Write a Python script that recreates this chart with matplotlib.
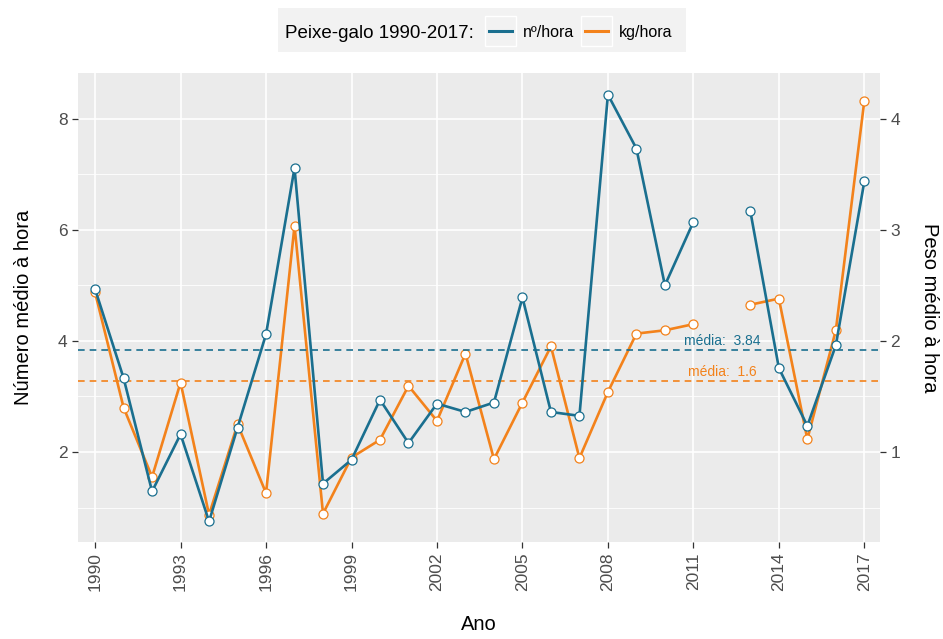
import numpy as np
import matplotlib.pyplot as plt
from matplotlib.patches import Rectangle
from matplotlib.lines import Line2D

plt.rcParams['font.family'] = ['Liberation Sans', 'DejaVu Sans']

# data
anos = np.arange(1990, 2018)
num_hora = [4.93, 3.33, 1.29, 2.32, 0.75, 2.44, 4.12, 7.11, 1.43, 1.86,
            2.94, 2.16, 2.87, 2.72, 2.89, 4.78, 2.72, 2.65, 8.43, 7.46,
            5.00, 6.14, np.nan, 6.33, 3.51, 2.47, 3.92, 6.87]
kg_hora = [2.435, 1.40, 0.775, 1.625, 0.435, 1.25, 0.63, 3.035, 0.445, 0.95,
           1.11, 1.595, 1.28, 1.885, 0.935, 1.445, 1.95, 0.945, 1.54, 2.065,
           2.095, 2.15, np.nan, 2.325, 2.38, 1.115, 2.095, 4.16]
media_num = 3.84
media_kg = 1.64
media_num_txt = '3.84'
media_kg_txt = '1.6'
anos_ticks = [1990, 1993, 1996, 1999, 2002, 2005, 2008, 2011, 2014, 2017]
series_nomes = ['nº/hora', 'kg/hora']

azul = '#1a6f8f'
laranja = '#f3821b'
cinza_txt = '#4d4d4d'

fig = plt.figure(figsize=(9.43, 6.39), dpi=100)
ax = fig.add_axes([78/943, 1-542/639, (880-78)/943, (542-73)/639])
ax2 = ax.twinx()

# ax2 (orange) sits underneath, ax (blue) on top
ax2.set_zorder(1)
ax.set_zorder(2)
ax.patch.set_visible(False)
ax2.patch.set_visible(True)
ax2.patch.set_facecolor('#ebebeb')

ylim = (0.38, 8.82)
ax.set_ylim(ylim)
ax2.set_ylim(ylim[0]/2, ylim[1]/2)
ax.set_xlim(1989.4, 2017.55)

# grid lives on the bottom axes
ax2.xaxis.set_visible(True)
ax2.set_xticks(anos_ticks)
ax2.set_yticks([1, 2, 3, 4])
ax2.set_yticks([0.5, 1.5, 2.5, 3.5], minor=True)
ax2.grid(which='major', color='white', lw=1.2)
ax2.grid(which='minor', axis='y', color='white', lw=0.6)
ax2.tick_params(axis='x', which='both', bottom=False, top=False,
                labelbottom=False, labeltop=False)
ax2.set_axisbelow(True)

# lines
ax2.plot(anos, kg_hora, color=laranja, lw=1.9, marker='o', ms=6.5,
         mfc='white', mec=laranja, mew=0.9, zorder=3)
ax2.axhline(media_kg, color=laranja, lw=1.2, ls=(0, (4, 3)), zorder=2)
ax2.text(2012, media_kg + 0.015, 'média:  ' + media_kg_txt, color=laranja,
         ha='center', va='bottom', fontsize=10, zorder=4)

ax.axhline(media_num, color=azul, lw=1.2, ls=(0, (4, 3)), zorder=2)
ax.plot(anos, num_hora, color=azul, lw=1.9, marker='o', ms=6.5,
        mfc='white', mec=azul, mew=0.9, zorder=3)
ax.text(2012, media_num + 0.04, 'média:  ' + media_num_txt, color=azul,
        ha='center', va='bottom', fontsize=10, zorder=4)

ax.set_xticks(anos_ticks)
ax.set_xticklabels([str(a) for a in anos_ticks], rotation=90)
ax.set_yticks([2, 4, 6, 8])

for a in (ax, ax2):
    for s in a.spines.values():
        s.set_visible(False)
    a.tick_params(which='major', length=4, width=0.9, color='#333333',
                  labelsize=12.5, labelcolor=cinza_txt)
    a.tick_params(which='minor', length=0)

ax.set_xlabel('Ano', fontsize=14.5, labelpad=17)
ax.set_ylabel('Número médio à hora', fontsize=14.5, labelpad=18)
ax2.set_ylabel('Peso médio à hora', fontsize=14.5, rotation=-90, labelpad=28)

# legend on top (ggplot style, title on the left)
W, H = 943, 639
yc = 1 - 31/H
fig.patches.append(Rectangle((278/W, 1-52/H), 408/W, 44/H,
                             transform=fig.transFigure, facecolor='#f2f2f2',
                             edgecolor='none', zorder=0))
fig.text(285/W, yc, 'Peixe-galo 1990-2017:', fontsize=13.5,
         va='center_baseline', ha='left')
for x0, cor, nome in zip([485, 581], [azul, laranja], series_nomes):
    fig.patches.append(Rectangle((x0/W, 1-46/H), 31/W, 30/H,
                                 transform=fig.transFigure, facecolor='#f2f2f2',
                                 edgecolor='white', lw=1.0, zorder=1))
    fig.add_artist(Line2D([(x0+4)/W, (x0+27)/W], [yc, yc], color=cor, lw=2.2,
                          transform=fig.transFigure))
    fig.text((x0+38)/W, yc, nome, fontsize=11.5, va='center_baseline',
             ha='left')

fig.savefig('out.png', dpi=100)
